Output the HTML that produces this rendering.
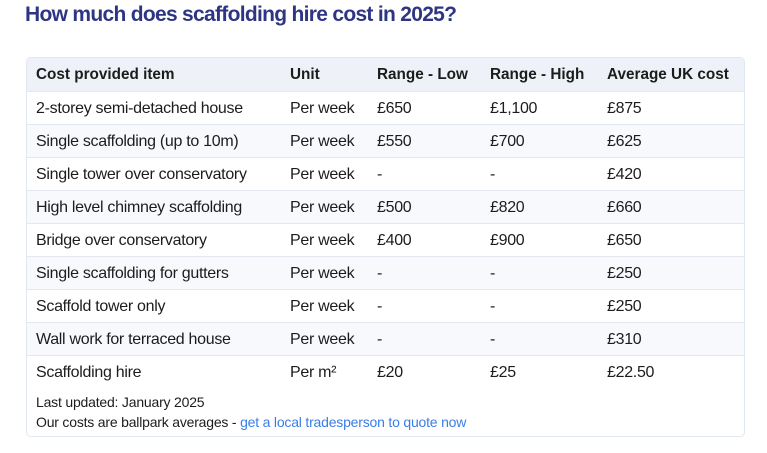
<!DOCTYPE html>
<html><head><style>
body{margin:0;width:767px;height:453px;background:#fff;font-family:"Liberation Sans",sans-serif;color:#1c1c1c;position:relative;overflow:hidden}
h1{position:absolute;left:25px;top:3px;margin:0;font-size:21px;font-weight:bold;color:#2e3683;letter-spacing:-0.7px}
.box{position:absolute;left:26px;top:57px;width:717px;height:378px;border:1.5px solid #e1e7f0;border-radius:5px;overflow:hidden}
.r{position:absolute;left:0;width:717px;height:33px;border-top:1px solid #e3e8f0;font-size:16px;line-height:33px;letter-spacing:-0.3px}
.r span{position:absolute;top:0;white-space:nowrap}
.h{background:#eef2f8;font-weight:bold;border-top:none;font-size:15.3px;letter-spacing:0}
.a{background:#f7f9fc}
.c1{left:9px}.c2{left:263px}.c3{left:350px}.c4{left:463px}.c5{left:580px}
.f{position:absolute;left:9px;font-size:14px;letter-spacing:-0.2px}
a{color:#3a7ee6;text-decoration:none}
</style></head><body>
<h1>How much does scaffolding hire cost in 2025?</h1>
<div class="box">
<div class="r h" style="top:0"><span class="c1">Cost provided item</span><span class="c2">Unit</span><span class="c3">Range - Low</span><span class="c4">Range - High</span><span class="c5">Average UK cost</span></div>
<div class="r" style="top:33px"><span class="c1">2-storey semi-detached house</span><span class="c2">Per week</span><span class="c3">£650</span><span class="c4">£1,100</span><span class="c5">£875</span></div>
<div class="r a" style="top:66px"><span class="c1">Single scaffolding (up to 10m)</span><span class="c2">Per week</span><span class="c3">£550</span><span class="c4">£700</span><span class="c5">£625</span></div>
<div class="r" style="top:99px"><span class="c1">Single tower over conservatory</span><span class="c2">Per week</span><span class="c3">-</span><span class="c4">-</span><span class="c5">£420</span></div>
<div class="r a" style="top:132px"><span class="c1">High level chimney scaffolding</span><span class="c2">Per week</span><span class="c3">£500</span><span class="c4">£820</span><span class="c5">£660</span></div>
<div class="r" style="top:165px"><span class="c1">Bridge over conservatory</span><span class="c2">Per week</span><span class="c3">£400</span><span class="c4">£900</span><span class="c5">£650</span></div>
<div class="r a" style="top:198px"><span class="c1">Single scaffolding for gutters</span><span class="c2">Per week</span><span class="c3">-</span><span class="c4">-</span><span class="c5">£250</span></div>
<div class="r" style="top:231px"><span class="c1">Scaffold tower only</span><span class="c2">Per week</span><span class="c3">-</span><span class="c4">-</span><span class="c5">£250</span></div>
<div class="r a" style="top:264px"><span class="c1">Wall work for terraced house</span><span class="c2">Per week</span><span class="c3">-</span><span class="c4">-</span><span class="c5">£310</span></div>
<div class="r" style="top:297px"><span class="c1">Scaffolding hire</span><span class="c2">Per m²</span><span class="c3">£20</span><span class="c4">£25</span><span class="c5">£22.50</span></div>
<div class="f" style="top:336px">Last updated: January 2025</div>
<div class="f" style="top:356px">Our costs are ballpark averages - <a>get a local tradesperson to quote now</a></div>
</div>
</body></html>
